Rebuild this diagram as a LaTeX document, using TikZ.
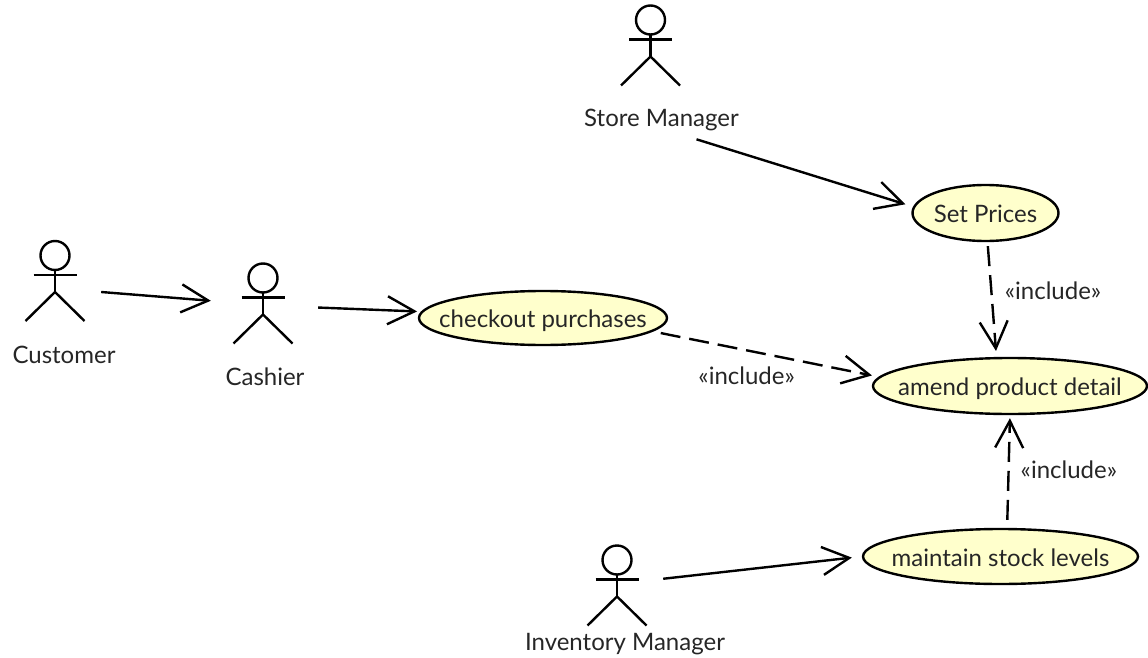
\documentclass[tikz,border=0pt]{standalone}
\usepackage{fontspec}
\setmainfont{Lato}
\usetikzlibrary{positioning,arrows.meta,shapes.geometric,calc}

\definecolor{casefill}{HTML}{FFFFCC}
\definecolor{inktext}{HTML}{262626}
\tikzset{
    actorbox/.style={minimum width=92pt, minimum height=60pt, inner sep=0pt},
    usecase/.style={draw, ellipse, fill=casefill, line width=2.4pt, inner sep=0pt, text height=19pt, text depth=0pt, text=inktext},
    caption/.style={inner sep=0pt, text height=15pt, text depth=5pt, text=inktext},
    assoc/.style={line width=2.4pt, -{Straight Barb[length=27pt, width=28pt, line width=2.4pt]}},
    depends/.style={assoc, dash pattern=on 20pt off 9pt},
    stereo/.style={inner sep=0pt, text height=13pt, text depth=3pt, text=inktext}
}
% stick figure around the joint of its legs
\newcommand{\stickman}[3]{
    \node[actorbox] (#1) at (#2,#3) {};
    \draw[line width=2.4pt] ($(#1.center)+(0,-36.5)$) circle (14.5pt);
    \draw[line width=2.4pt] ($(#1.center)+(0,-22)$) -- (#1.center);
    \draw[line width=2.4pt] ($(#1.center)+(-21.5,-17)$) -- ($(#1.center)+(21.5,-17)$);
    \draw[line width=2.4pt] ($(#1.center)+(-29.5,29)$) -- (#1.center) -- ($(#1.center)+(29.5,29)$);
}
% keeps the ellipse size free of its text
\newcommand{\casetext}[1]{\makebox[0pt]{#1}}

\begin{document}
\begin{tikzpicture}[x=1pt, y=-1pt, font=\fontsize{24}{28}\selectfont]
    \useasboundingbox (0,0) rectangle (1148,658);

    \stickman{customer}{55}{292}
    \stickman{cashier}{263}{314.5}
    \stickman{storemanager}{650.5}{56.5}
    \stickman{inventory}{617}{596.5}

    \node[caption, below=26pt of customer, xshift=9pt] (customerlabel) {Customer};
    \node[caption, below=25.5pt of cashier, xshift=2pt] (cashierlabel) {Cashier};
    \node[caption, below=24.5pt of storemanager, xshift=11pt] (storelabel) {Store Manager};
    \node[caption, below=9pt of inventory, xshift=8pt] (inventorylabel) {Inventory Manager};

    \node[usecase, minimum width=146pt, minimum height=56pt] (setprices) at (985.5,213) {\casetext{Set Prices}};
    \node[usecase, minimum width=248pt, minimum height=54pt] (checkout) at (543,318) {\casetext{checkout purchases}};
    \node[usecase, minimum width=274pt, minimum height=56pt] (amend) at (1010,386) {\casetext{amend product detail}};
    \node[usecase, minimum width=275pt, minimum height=55pt] (maintain) at (1000.5,556.5) {\casetext{maintain stock levels}};

    \draw[assoc, shorten >=6pt] (customer.east) -- (cashier.164);
    \draw[assoc, shorten <=9pt, shorten >=4pt] (cashier.9) -- (checkout.177);
    \draw[assoc, shorten <=26pt, shorten >=8pt] (storelabel.-45) -- (setprices.175);
    \draw[assoc, shorten >=10pt] (inventory.21) -- (maintain.180);

    \draw[depends, shorten <=4pt, shorten >=6pt] (setprices.-86) -- (amend.115)
        node[stereo, pos=.46, right=12pt] (include1) {«include»};
    \draw[depends, shorten <=8pt, shorten >=7pt] (checkout.-7) -- (amend.176)
        node[stereo, pos=.415, below=20pt] (include2) {«include»};
    \draw[depends, shorten <=8pt, shorten >=3pt] (maintain.77) -- (amend.-90)
        node[stereo, pos=.48, right=11pt] (include3) {«include»};
\end{tikzpicture}
\end{document}
